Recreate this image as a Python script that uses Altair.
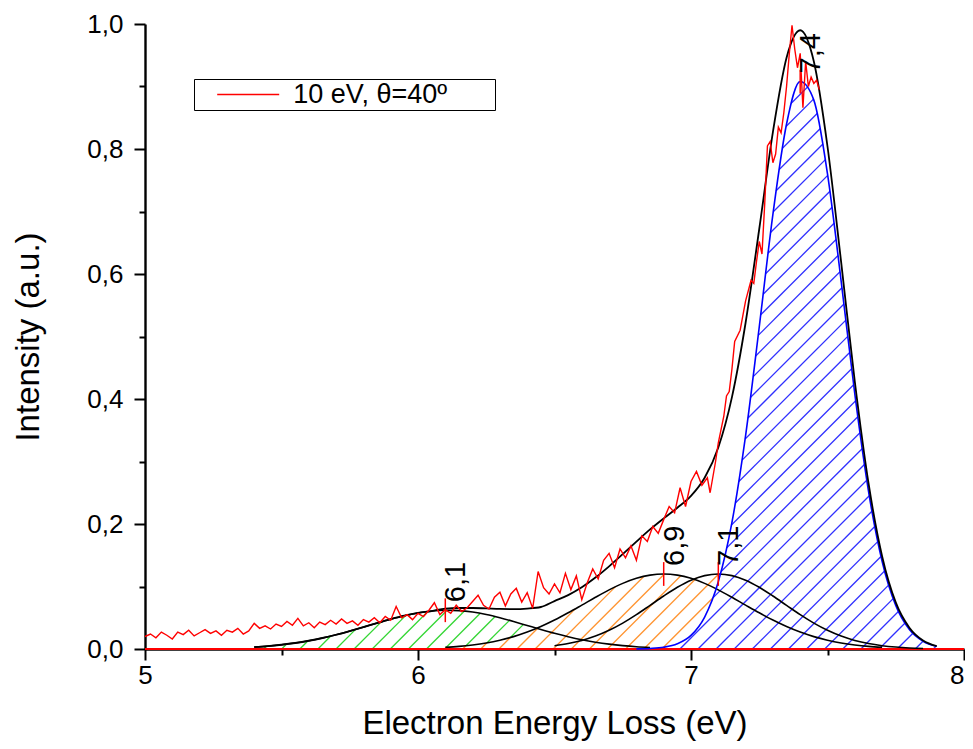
import altair as alt
import pandas as pd
import numpy as np

# ---------------- data ----------------
# measured spectrum (red)
red_x = [5.00, 5.02, 5.04, 5.06, 5.08, 5.10, 5.12, 5.14, 5.16, 5.18,
         5.20, 5.22, 5.24, 5.26, 5.28, 5.30, 5.32, 5.34, 5.36, 5.38,
         5.40, 5.42, 5.44, 5.46, 5.48, 5.50, 5.52, 5.54, 5.56, 5.58,
         5.60, 5.62, 5.64, 5.66, 5.68, 5.70, 5.72, 5.74, 5.76, 5.78,
         5.80, 5.82, 5.84, 5.86, 5.88, 5.90, 5.92, 5.94, 5.96, 5.98,
         6.00, 6.02, 6.04, 6.06, 6.08, 6.10, 6.12, 6.14, 6.16, 6.18,
         6.20, 6.22, 6.24, 6.26, 6.28, 6.30, 6.32, 6.34, 6.36, 6.38,
         6.40, 6.42, 6.44, 6.46, 6.48, 6.50, 6.52, 6.54, 6.56, 6.58,
         6.60, 6.62, 6.64, 6.66, 6.68, 6.70, 6.72, 6.74, 6.76, 6.78,
         6.80, 6.82, 6.84, 6.86, 6.88, 6.90, 6.92, 6.94, 6.96, 6.98,
         7.00, 7.02, 7.04, 7.06, 7.07, 7.09, 7.10, 7.12, 7.13, 7.14,
         7.15, 7.16, 7.18, 7.20, 7.22, 7.23, 7.24, 7.25, 7.26, 7.27,
         7.28, 7.29, 7.30, 7.31, 7.32, 7.33, 7.34, 7.35, 7.36, 7.37,
         7.38, 7.39, 7.40, 7.41, 7.42, 7.43, 7.44, 7.45, 7.46, 7.47]
red_y = [0.020, 0.024, 0.018, 0.027, 0.022, 0.016, 0.027, 0.023, 0.030, 0.021,
         0.026, 0.031, 0.025, 0.029, 0.022, 0.030, 0.027, 0.033, 0.024, 0.029,
         0.041, 0.033, 0.037, 0.032, 0.040, 0.036, 0.044, 0.038, 0.049, 0.037,
         0.042, 0.034, 0.043, 0.039, 0.046, 0.040, 0.048, 0.041, 0.045, 0.038,
         0.047, 0.043, 0.050, 0.042, 0.052, 0.046, 0.068, 0.050, 0.055, 0.047,
         0.057, 0.052, 0.062, 0.074, 0.055, 0.063, 0.057, 0.070, 0.060, 0.066,
         0.076, 0.086, 0.070, 0.064, 0.083, 0.091, 0.069, 0.088, 0.097, 0.075,
         0.090, 0.065, 0.124, 0.098, 0.088, 0.104, 0.090, 0.121, 0.095, 0.117,
         0.079, 0.106, 0.128, 0.112, 0.142, 0.153, 0.130, 0.160, 0.146, 0.165,
         0.142, 0.181, 0.172, 0.196, 0.185, 0.207, 0.228, 0.218, 0.258, 0.228,
         0.268, 0.284, 0.262, 0.274, 0.250, 0.300, 0.330, 0.372, 0.405, 0.412,
         0.448, 0.492, 0.510, 0.557, 0.590, 0.585, 0.620, 0.652, 0.632, 0.712,
         0.805, 0.812, 0.778, 0.792, 0.835, 0.826, 0.858, 0.900, 0.952, 0.998,
         0.960, 0.930, 0.953, 0.866, 0.940, 0.900, 0.915, 0.905, 0.910, 0.895]
series_name = "10 eV, θ=40º"

# fitted peaks and cumulative fit, sampled on a common energy grid
fit_x = [5.40, 5.45, 5.50, 5.55, 5.60, 5.65, 5.70, 5.75, 5.80, 5.85,
         5.90, 5.95, 6.00, 6.05, 6.10, 6.15, 6.20, 6.25, 6.30, 6.35,
         6.40, 6.45, 6.50, 6.55, 6.60, 6.65, 6.70, 6.75, 6.80, 6.85,
         6.90, 6.95, 7.00, 7.05, 7.10, 7.15, 7.20, 7.25, 7.30, 7.35,
         7.40, 7.45, 7.50, 7.55, 7.60, 7.65, 7.70, 7.75, 7.80, 7.85, 7.90]
N = None
peak_61 = [0.0031, 0.0046, 0.0068, 0.0096, 0.0132, 0.0176, 0.0228, 0.0287, 0.0350, 0.0415,
           0.0477, 0.0533, 0.0577, 0.0607, 0.0620, 0.0614, 0.0591, 0.0552, 0.0500, 0.0440,
           0.0376, 0.0312, 0.0251, 0.0196, 0.0148, 0.0109, 0.0078, 0.0054, 0.0036, 0.0024,
           N, N, N, N, N, N, N, N, N, N,
           N, N, N, N, N, N, N, N, N, N, N]
peak_69 = [N, N, N, N, N, N, N, N, N, N,
           N, N, N, N, 0.0027, 0.0042, 0.0065, 0.0097, 0.0141, 0.0198,
           0.0271, 0.0360, 0.0463, 0.0579, 0.0702, 0.0827, 0.0946, 0.1050, 0.1131, 0.1182,
           0.1200, 0.1182, 0.1131, 0.1050, 0.0946, 0.0827, 0.0702, 0.0579, 0.0463, 0.0360,
           0.0271, 0.0198, 0.0141, 0.0097, 0.0065, 0.0042, 0.0027, N, N, N, N]
peak_71 = [N, N, N, N, N, N, N, N, N, N,
           N, N, N, N, N, N, N, N, N, N,
           N, N, 0.0053, 0.0087, 0.0137, 0.0207, 0.0299, 0.0414, 0.0549, 0.0698,
           0.0848, 0.0987, 0.1100, 0.1174, 0.1200, 0.1174, 0.1100, 0.0987, 0.0848, 0.0698,
           0.0549, 0.0414, 0.0299, 0.0207, 0.0137, 0.0087, 0.0053, 0.0031, 0.0017, 0.0009, N]
peak_74 = [N, N, N, N, N, N, N, N, N, N,
           N, N, N, N, N, N, N, N, N, N,
           N, N, N, N, N, N, N, N, 0.0002, 0.0009,
           0.0028, 0.0083, 0.0217, 0.0511, 0.1075, 0.2026, 0.3415, 0.5152, 0.6954, 0.8400,
           0.9080, 0.8782, 0.7601, 0.5887, 0.4080, 0.2530, 0.1404, 0.0697, 0.0310, 0.0123, 0.0044]
fit_sum = [0.0031, 0.0046, 0.0068, 0.0096, 0.0132, 0.0176, 0.0228, 0.0287, 0.0350, 0.0415,
           0.0477, 0.0533, 0.0577, 0.0607, 0.0647, 0.0656, 0.0656, 0.0649, 0.0641, 0.0638,
           0.0647, 0.0672, 0.0767, 0.0862, 0.0987, 0.1143, 0.1323, 0.1518, 0.1718, 0.1913,
           0.2090, 0.2260, 0.2450, 0.2740, 0.3225, 0.4030, 0.5220, 0.6720, 0.8270, 0.9460,
           0.9900, 0.9400, 0.8040, 0.6190, 0.4280, 0.2660, 0.1485, 0.0745, 0.0340, 0.0135, 0.0045]

# peak labels
peak_labels = ["6,1", "6,9", "7,1", "7,4"]
peak_pos = [6.10, 6.90, 7.10, 7.40]
peak_height = [0.062, 0.120, 0.120, 0.908]

# axis ticks
x_major = [5, 6, 7, 8]
x_minor = [5.5, 6.5, 7.5]
y_major = [0.0, 0.2, 0.4, 0.6, 0.8, 1.0]
y_minor = [0.1, 0.3, 0.5, 0.7, 0.9]

# ---------------- layout / style ----------------
W, H = 819, 625
XMIN, XMAX = 5.0, 8.0
FONT = "Liberation Sans"
HATCH_SP = 18.1
HATCH_PHASE = 10.0

GREEN = "#33d633"
ORANGE = "#ff9430"
BLUE_H = "#3030ff"


def monotone_eval(xs, ys, xq):
    """Evaluate d3 curveMonotoneX through (xs, ys) at xq (same path Vega draws)."""
    xs = np.asarray(xs, float)
    ys = np.asarray(ys, float)
    n = len(xs)
    h = np.diff(xs)
    s = np.diff(ys) / h
    t = np.zeros(n)
    for i in range(1, n - 1):
        h0, h1, s0, s1 = h[i - 1], h[i], s[i - 1], s[i]
        p = (s0 * h1 + s1 * h0) / (h0 + h1)
        v = (np.sign(s0) + np.sign(s1)) * min(abs(s0), abs(s1), 0.5 * abs(p))
        t[i] = v if np.isfinite(v) else 0.0
    t[0] = (3 * s[0] - t[1]) / 2
    t[-1] = (3 * s[-1] - t[-2]) / 2
    out = np.empty_like(xq)
    idx = np.clip(np.searchsorted(xs, xq, side="right") - 1, 0, n - 2)
    for k, (q, i) in enumerate(zip(xq, idx)):
        dx = h[i]
        u = (q - xs[i]) / dx
        h00 = 2 * u**3 - 3 * u**2 + 1
        h10 = u**3 - 2 * u**2 + u
        h01 = -2 * u**3 + 3 * u**2
        h11 = u**3 - u**2
        out[k] = h00 * ys[i] + h10 * dx * t[i] + h01 * ys[i + 1] + h11 * dx * t[i + 1]
    return out


def hatch_segments(xs, ys):
    """45-degree hatch lines clipped to the area under the curve (pixel space)."""
    pts = [(x, y) for x, y in zip(xs, ys) if y is not None]
    px = np.array([(x - XMIN) / (XMAX - XMIN) * W for x, _ in pts])
    py = np.array([y * H for _, y in pts])
    X = np.arange(px[0], px[-1], 0.2)
    F = np.maximum(monotone_eval(px, py, X), 0)
    rows = []
    kmin = int(np.floor((px[0] - F.max() - HATCH_PHASE) / HATCH_SP)) - 1
    kmax = int(np.ceil((px[-1] - HATCH_PHASE) / HATCH_SP)) + 1
    for k in range(kmin, kmax + 1):
        c = HATCH_PHASE + k * HATCH_SP
        g = F - (X - c)
        ok = (X >= c) & (g >= 0)
        if not ok.any():
            continue
        idx = np.flatnonzero(ok)
        splits = np.flatnonzero(np.diff(idx) > 1)
        starts = np.r_[idx[0], idx[splits + 1]]
        ends = np.r_[idx[splits], idx[-1]]
        for i0, i1 in zip(starts, ends):
            if i0 > 0 and X[i0 - 1] < c:
                xs0 = c
            elif i0 > 0:
                a, b = g[i0 - 1], g[i0]
                xs0 = X[i0 - 1] + (X[i0] - X[i0 - 1]) * (-a) / (b - a)
            else:
                xs0 = X[i0]
            if i1 < len(X) - 1:
                a, b = g[i1], g[i1 + 1]
                xe = X[i1] + (X[i1 + 1] - X[i1]) * a / (a - b)
            else:
                xe = X[i1]
            if xe - xs0 < 0.8:
                continue
            ys0 = max(xs0 - c, 0.0)
            ye = xe - c
            rows.append({
                "x": XMIN + xs0 / W * (XMAX - XMIN), "y": ys0 / H,
                "x2": XMIN + xe / W * (XMAX - XMIN), "y2": ye / H,
            })
    return pd.DataFrame(rows)


xsc = alt.Scale(domain=[XMIN, XMAX], nice=False, zero=False)
ysc = alt.Scale(domain=[0, 1.0], nice=False, zero=False)

components = {"p61": peak_61, "p69": peak_69, "p71": peak_71, "p74": peak_74}
fits = pd.DataFrame({"x": fit_x, **components, "sum": fit_sum})
spec = pd.DataFrame({"x": red_x, "y": red_y, "series": series_name})
peaks = pd.DataFrame({"x": peak_pos, "h": peak_height, "label": peak_labels})
peaks["lo"] = peaks["h"] - 0.019
peaks["hi"] = peaks["h"] + 0.019
base_df = pd.DataFrame({"x": [XMIN], "x2": [XMAX], "y": [0.0]})
minor_df = pd.DataFrame({"x": x_minor + [x_minor[0]] * 2, "y": y_minor})

common = dict(tickColor="black", domainColor="black", tickWidth=2, domainWidth=2.4,
              grid=False, labelFont=FONT, labelColor="black", labelFlush=False,
              labelOverlap=False, titleFont=FONT, titleFontWeight="normal",
              titleColor="black")

x_axis = alt.Axis(
    values=x_major, title="Electron Energy Loss (eV)", orient="bottom",
    format="d", tickSize=11, labelFontSize=26, labelPadding=2,
    labelAlign={"condition": {"test": f"datum.value == {x_major[-1]}", "value": "right"},
                "value": "center"},
    titleFontSize=33, titlePadding=19, **common,
)
y_axis = alt.Axis(
    values=y_major, title="Intensity (a.u.)", orient="left",
    labelExpr="replace(format(datum.value, '.1f'), '.', ',')",
    tickSize=11, labelFontSize=26, labelPadding=11,
    titleFontSize=33, titlePadding=41, **common,
)
x_minor_axis = alt.Axis(values=x_minor, orient="bottom", labels=False, domain=False,
                        title=None, tickSize=6, tickWidth=2, tickColor="black", grid=False)
y_minor_axis = alt.Axis(values=y_minor, orient="left", labels=False, domain=False,
                        title=None, tickSize=6, tickWidth=2, tickColor="black", grid=False)

layers = []


def area_layer(col, with_axes=False):
    return alt.Chart(fits).mark_area(
        interpolate="monotone", color="white", opacity=1
    ).encode(
        x=alt.X("x:Q", scale=xsc, axis=x_axis if with_axes else None),
        y=alt.Y(f"{col}:Q", scale=ysc, axis=y_axis if with_axes else None),
    )


def hatch_layer(col, color):
    df = hatch_segments(fit_x, components[col])
    return alt.Chart(df).mark_rule(color=color, strokeWidth=1.3).encode(
        x=alt.X("x:Q", scale=xsc, axis=None),
        y=alt.Y("y:Q", scale=ysc, axis=None),
        x2="x2:Q", y2="y2:Q",
    )


def line_layer(col, color, width):
    return alt.Chart(fits).mark_line(
        interpolate="monotone", color=color, strokeWidth=width
    ).encode(
        x=alt.X("x:Q", scale=xsc, axis=None),
        y=alt.Y(f"{col}:Q", scale=ysc, axis=None),
    )


layers.append(area_layer("p61", with_axes=True))
layers.append(alt.Chart(minor_df).mark_point(opacity=0).encode(
    x=alt.X("x:Q", scale=xsc, axis=x_minor_axis),
    y=alt.Y("y:Q", scale=ysc, axis=y_minor_axis),
))
layers.append(hatch_layer("p61", GREEN))
layers.append(area_layer("p69"))
layers.append(hatch_layer("p69", ORANGE))
layers.append(area_layer("p71"))
layers.append(hatch_layer("p71", ORANGE))
layers.append(area_layer("p74"))
layers.append(hatch_layer("p74", BLUE_H))

layers.append(alt.Chart(base_df).mark_rule(color="#ff0000", strokeWidth=2).encode(
    x=alt.X("x:Q", scale=xsc, axis=None), x2="x2:Q",
    y=alt.Y("y:Q", scale=ysc, axis=None),
))

layers.append(line_layer("p61", "black", 1.6))
layers.append(line_layer("p69", "black", 1.6))
layers.append(line_layer("p71", "black", 1.6))
layers.append(line_layer("p74", "#0000ff", 1.6))
layers.append(line_layer("sum", "black", 1.8))

# trailing no-break spaces widen the legend box; the final word joiner keeps them from being trimmed
pad_txt = "\u00a0" * 6 + "\u2060"
layers.append(alt.Chart(spec).mark_line(strokeWidth=1.4).encode(
    x=alt.X("x:Q", scale=xsc, axis=None),
    y=alt.Y("y:Q", scale=ysc, axis=None),
    color=alt.Color("series:N",
                    scale=alt.Scale(domain=[series_name], range=["#ff0000"]),
                    legend=alt.Legend(
                        orient="none", legendX=49, legendY=55, title=None,
                        strokeColor="black", fillColor="white", padding=2,
                        symbolType="M-3,0H3", symbolSize=427, symbolStrokeWidth=1.5,
                        symbolOffset=38.7, labelOffset=31.6,
                        labelFont=FONT, labelFontSize=27, labelColor="black",
                        labelLimit=0, labelExpr=f"datum.label + '{pad_txt}'",
                    )),
))

layers.append(alt.Chart(peaks).mark_rule(color="#ff0000", strokeWidth=1.5).encode(
    x=alt.X("x:Q", scale=xsc, axis=None),
    y=alt.Y("lo:Q", scale=ysc, axis=None), y2="hi:Q",
))
layers.append(alt.Chart(peaks).mark_text(
    angle=270, align="left", baseline="middle", dx=8, dy=11,
    font=FONT, fontSize=29, color="black",
).encode(
    x=alt.X("x:Q", scale=xsc, axis=None),
    y=alt.Y("h:Q", scale=ysc, axis=None),
    text="label:N",
))

chart = alt.layer(*layers).resolve_axis(
    x="independent", y="independent"
).properties(
    width=W, height=H,
    autosize=alt.AutoSizeParams(type="none"),
    padding={"left": 137, "top": 16, "right": 1, "bottom": 92},
    background="white",
).configure_view(stroke=None)

chart.save("out.html", embed_options={"renderer": "svg", "actions": False})
